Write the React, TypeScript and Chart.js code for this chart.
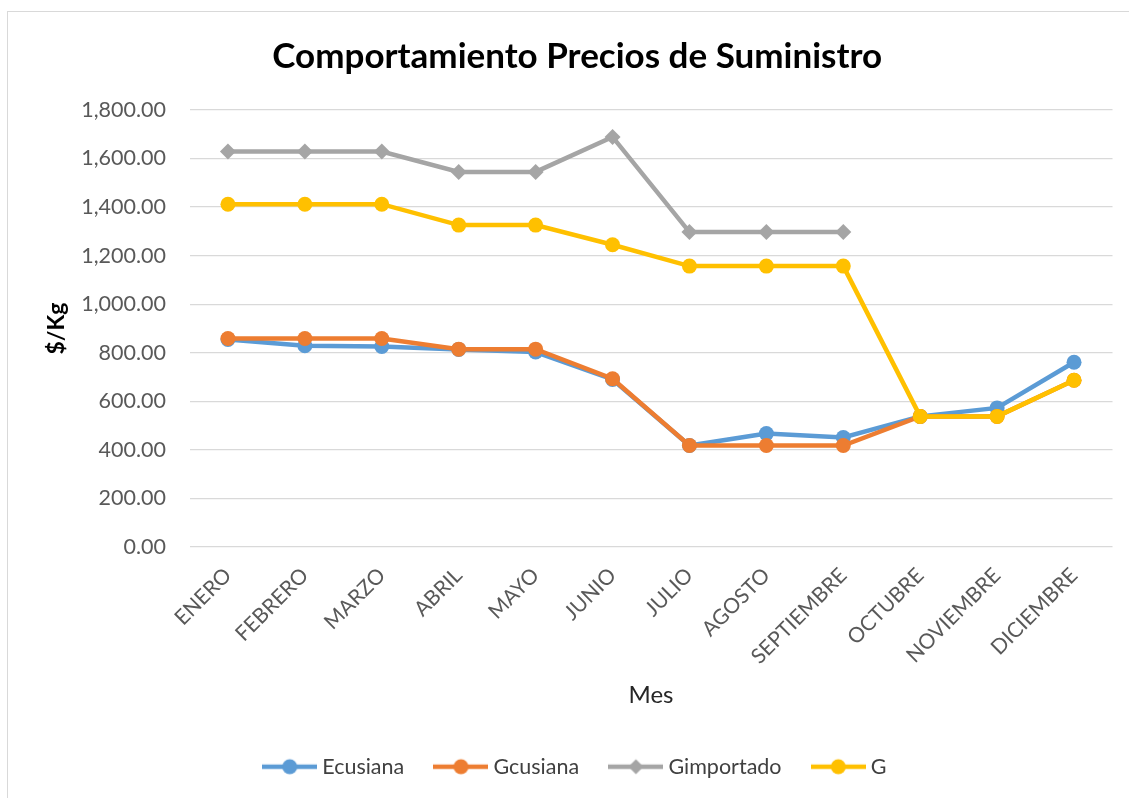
import React, { useEffect, useRef } from "react";
import { Chart, registerables } from "chart.js";

Chart.register(...registerables);

const months = [
  "ENERO", "FEBRERO", "MARZO", "ABRIL", "MAYO", "JUNIO",
  "JULIO", "AGOSTO", "SEPTIEMBRE", "OCTUBRE", "NOVIEMBRE", "DICIEMBRE",
];
const ecusiana = [855, 829, 826, 814, 803, 690, 418, 467, 451, 538, 573, 761];
const gcusiana = [859, 859, 859, 815, 815, 693, 418, 418, 418, 538, 538, 687];
const gimportado = [1629, 1629, 1629, 1545, 1545, 1689, 1297, 1297, 1297, null, null, null];
const gSeries = [1412, 1412, 1412, 1326, 1326, 1245, 1157, 1157, 1157, 538, 538, 687];

const seriesNames = ["Ecusiana", "Gcusiana", "Gimportado", "G"];
const seriesColors = ["#5B9BD5", "#ED7D31", "#A5A5A5", "#FFC000"];
const seriesMarkers = ["circle", "circle", "rectRot", "circle"];

const chartTitle = "Comportamiento Precios de Suministro";
const yTitle = "$/Kg";
const xTitle = "Mes";

function makeIcon(color: string, style: string) {
  const c = document.createElement("canvas");
  c.width = 55;
  c.height = 18;
  const ctx = c.getContext("2d")!;
  ctx.strokeStyle = color;
  ctx.lineWidth = 4.5;
  ctx.beginPath();
  ctx.moveTo(0, 9);
  ctx.lineTo(55, 9);
  ctx.stroke();
  ctx.fillStyle = color;
  ctx.beginPath();
  if (style === "rectRot") {
    ctx.moveTo(27.5, 1.5);
    ctx.lineTo(35, 9);
    ctx.lineTo(27.5, 16.5);
    ctx.lineTo(20, 9);
    ctx.closePath();
  } else {
    ctx.arc(27.5, 9, 7.5, 0, Math.PI * 2);
  }
  ctx.fill();
  return c;
}

export default function App() {
  const ref = useRef<HTMLCanvasElement>(null);

  useEffect(() => {
    if (!ref.current) return;
    Chart.defaults.font.family = "Lato";
    const values = [ecusiana, gcusiana, gimportado, gSeries];
    const icons = seriesColors.map((c, i) => makeIcon(c, seriesMarkers[i]));
    const chart = new Chart(ref.current, {
      type: "line",
      data: {
        labels: months,
        datasets: values.map((v, i) => ({
          label: seriesNames[i],
          data: v,
          borderColor: seriesColors[i],
          backgroundColor: seriesColors[i],
          pointBackgroundColor: seriesColors[i],
          pointBorderColor: seriesColors[i],
          pointBorderWidth: 0,
          pointStyle: seriesMarkers[i] as any,
          pointRadius: seriesMarkers[i] === "rectRot" ? 8 : 7.5,
          pointHoverRadius: seriesMarkers[i] === "rectRot" ? 8 : 7.5,
          borderWidth: 4.5,
          tension: 0,
          spanGaps: false,
          order: 4 - i,
        })),
      },
      options: {
        responsive: false,
        animation: false,
        layout: { padding: { left: 34, right: 16.5, top: 0, bottom: 10.5 } },
        plugins: {
          tooltip: { enabled: false },
          title: {
            display: true,
            text: chartTitle,
            color: "#000000",
            font: { size: 35, weight: "bold", family: "Lato" },
            padding: { top: 24, bottom: 32 },
          },
          legend: {
            position: "bottom",
            labels: {
              usePointStyle: true,
              pointStyleWidth: 43.5,
              padding: 35,
              color: "#404040",
              font: { size: 21.5, family: "Lato" },
              sort: (a: any, b: any) => a.datasetIndex - b.datasetIndex,
              generateLabels: (ch: any) => {
                const items = Chart.defaults.plugins.legend.labels.generateLabels(ch);
                return items.map((it: any) => ({
                  ...it,
                  pointStyle: icons[it.datasetIndex],
                }));
              },
            },
          },
        },
        scales: {
          x: {
            offset: true,
            grid: { display: false },
            border: { display: false },
            ticks: {
              color: "#595959",
              font: { size: 21, family: "Lato" },
              minRotation: 45,
              maxRotation: 45,
              autoSkip: false,
              padding: 8,
            },
            title: {
              display: true,
              text: xTitle,
              color: "#262626",
              font: { size: 24, family: "Lato" },
              padding: { top: 0, bottom: 11.6 },
            },
            afterFit: (s: any) => {
              s.height = 174;
            },
          },
          y: {
            min: 0,
            max: 1800,
            grid: { color: "#D9D9D9", lineWidth: 1.3, drawTicks: false },
            border: { display: false },
            ticks: {
              stepSize: 200,
              color: "#595959",
              font: { size: 21.5, family: "Lato" },
              padding: 23.5,
              callback: (v: any) =>
                Number(v).toLocaleString("en-US", {
                  minimumFractionDigits: 2,
                  maximumFractionDigits: 2,
                }),
            },
            title: {
              display: true,
              text: yTitle,
              color: "#000000",
              font: { size: 23, weight: "bold", family: "Lato" },
              padding: { top: 1, bottom: 0 },
            },
            afterFit: (s: any) => {
              s.width = 147.5;
            },
          },
        },
      },
    });
    return () => chart.destroy();
  }, []);

  return (
    <div
      style={{
        position: "fixed",
        left: 0,
        top: 0,
        width: 1129,
        height: 798,
        overflow: "hidden",
        background: "#ffffff",
      }}
    >
      <div
        style={{
          position: "absolute",
          left: 7,
          top: 11,
          width: 1140,
          height: 800,
          borderLeft: "1px solid #d9d9d9",
          borderTop: "1px solid #d9d9d9",
        }}
      >
        <canvas
          ref={ref}
          width={1121}
          height={786}
          style={{ position: "absolute", left: 0, top: 0, width: 1121, height: 786 }}
        />
      </div>
    </div>
  );
}
